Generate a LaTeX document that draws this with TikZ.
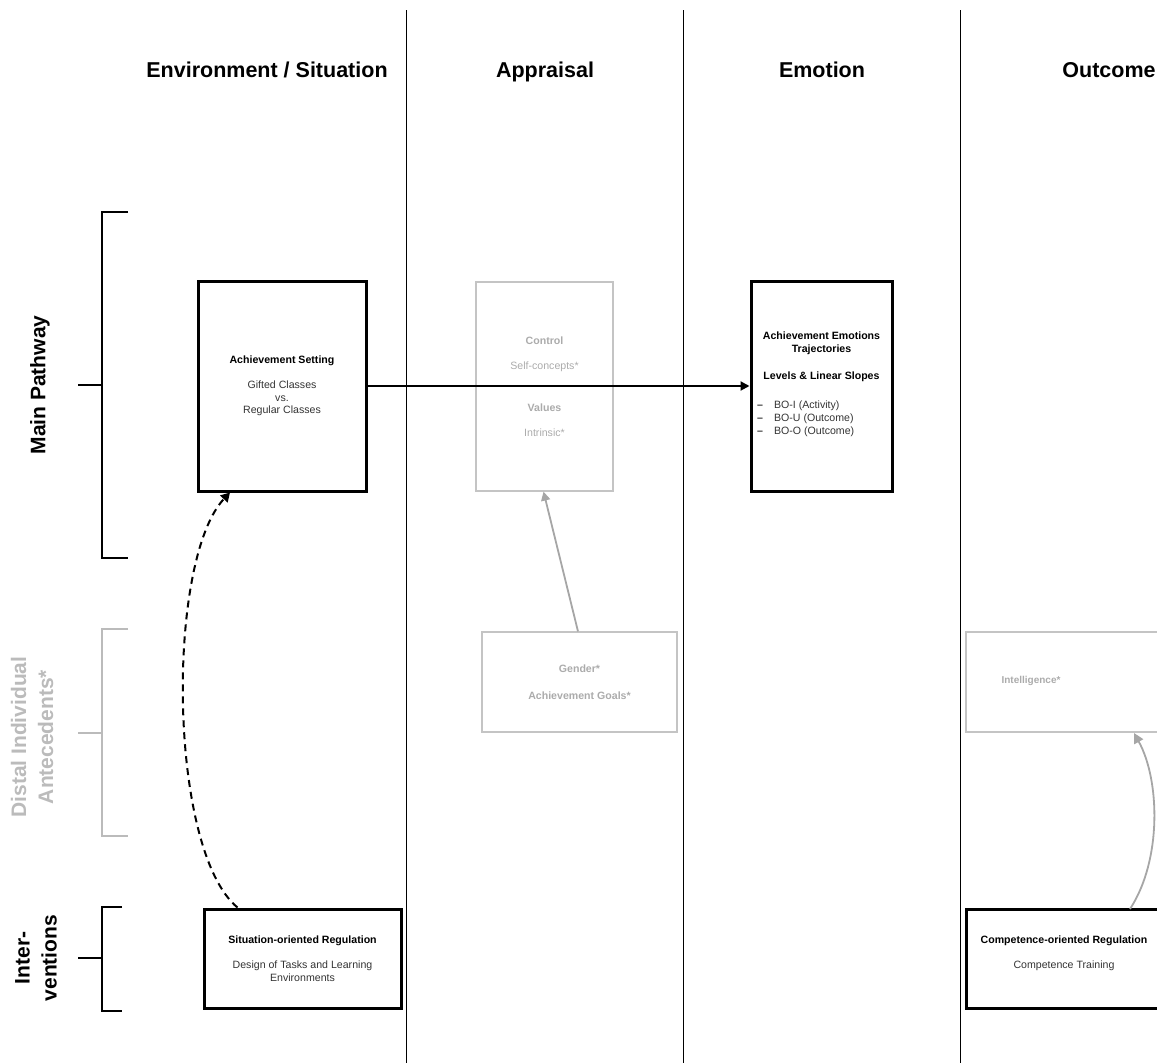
\documentclass[tikz,border=0pt]{standalone}
\usepackage{fontspec}
\setmainfont{Liberation Sans}
\usetikzlibrary{arrows.meta}
\definecolor{faint}{HTML}{C4C4C4}
\definecolor{fainttext}{HTML}{ABABAB}
\definecolor{faintarrow}{HTML}{A6A6A6}
\definecolor{faintlabel}{HTML}{BBBBBB}
\definecolor{bodytext}{HTML}{333333}
\tikzset{
  header/.style={font=\fontsize{21.5}{25}\selectfont\bfseries, anchor=base},
  rowlabel/.style={font=\fontsize{21}{27}\selectfont\bfseries, rotate=90, align=center, anchor=center},
  boxfont/.style={font=\fontsize{10.6}{12.5}\selectfont},
  strongbox/.style={draw=black, line width=3pt, inner sep=0pt, align=center, boxfont},
  faintbox/.style={draw=faint, line width=1.2pt, inner sep=0pt, align=center,
    text=fainttext, boxfont},
  column/.style={line width=0.9pt, black},
  bracket/.style={line width=2.2pt},
  flow/.style={line width=2pt, -{Triangle[length=9pt,width=9pt]}},
}
\begin{document}
\begin{tikzpicture}[x=1pt,y=-1pt]
\useasboundingbox (0,0) rectangle (1157,1063);
\clip (0,0) rectangle (1157,1063);

% column separators
\coordinate (c1t) at (406,10);  \coordinate (c1b) at (406,1063);
\coordinate (c2t) at (683,10);  \coordinate (c2b) at (683,1063);
\coordinate (c3t) at (960,10);  \coordinate (c3b) at (960,1063);
\draw[column] (c1t) -- (c1b);
\draw[column] (c2t) -- (c2b);
\draw[column] (c3t) -- (c3b);

% column headers
\node[header] (henv) at (267,77) {Environment / Situation};
\node[header] (happ) at (545,77) {Appraisal};
\node[header] (hemo) at (822,77) {Emotion};
\node[header] (hout) at (1109,77) {Outcome};

% row brackets
\draw[bracket] (128,212) -- (102,212) -- (102,558) -- (128,558);
\draw[bracket] (78,385) -- (102,385);
\node[rowlabel] (rmain) at (40,385) {Main Pathway};

\draw[bracket, faintlabel] (128,629) -- (102,629) -- (102,836) -- (128,836);
\draw[bracket, faintlabel] (78,733) -- (102,733);
\node[rowlabel, text=faintlabel] (rdistal) at (32,737) {Distal Individual\\Antecedents*};

\draw[bracket] (122,907) -- (102,907) -- (102,1011) -- (122,1011);
\draw[bracket] (78,958) -- (102,958);
\node[rowlabel] (rinter) at (36,958) {Inter-\\ventions};

% main pathway boxes
\node[strongbox, minimum width=168pt, minimum height=210pt] (setting) at (282,386)
  {\textbf{Achievement Setting}\\[13pt]\textcolor{bodytext}{Gifted Classes}\\\textcolor{bodytext}{vs.}\\\textcolor{bodytext}{Regular Classes}};
\node[faintbox, minimum width=137pt, minimum height=209pt] (appraisal) at (544.5,386.5)
  {\textbf{Control}\\[12pt]Self-concepts*\\[30pt]\textbf{Values}\\[12pt]Intrinsic*};
\node[strongbox, minimum width=141pt, minimum height=210pt] (emotion) at (821.5,386) {};
\node[boxfont, align=center, anchor=north] (emohead) at (821.5,328)
  {\textbf{Achievement Emotions}\\[1pt]\textbf{Trajectories}\\[14pt]\textbf{Levels \& Linear Slopes}};
\node[font=\fontsize{10.6}{13}\selectfont, text=bodytext, align=left, anchor=west, inner sep=0pt] (emolist) at (757,419)
  {\textbf{--}\hspace{11pt}BO-I (Activity)\\\textbf{--}\hspace{11pt}BO-U (Outcome)\\\textbf{--}\hspace{11pt}BO-O (Outcome)};

% distal antecedents
\node[faintbox, minimum width=195pt, minimum height=100pt] (gender) at (579.5,682)
  {\textbf{Gender*}\\[15pt]\textbf{Achievement Goals*}};
\node[faintbox, minimum width=220pt, minimum height=100pt] (intel) at (1076,682) {};
\node[text=fainttext, boxfont, font=\bfseries] (inteltext) at (1031,681) {Intelligence*};

% interventions
\node[strongbox, minimum width=197pt, minimum height=99pt] (situation) at (302.5,958.5)
  {\textbf{Situation-oriented Regulation}\\[13pt]\textcolor{bodytext}{Design of Tasks and Learning}\\\textcolor{bodytext}{Environments}};
\node[strongbox, minimum width=220pt, minimum height=99pt] (competence) at (1076,958.5) {};
\node[boxfont, align=center] (comptext) at (1064,953)
  {\textbf{Competence-oriented Regulation}\\[13pt]\textcolor{bodytext}{Competence Training}};

% connectors
\draw[flow] (setting.east) -- (emotion.west);
\draw[flow, faintarrow, line width=1.8pt] ([xshift=-1.5pt]gender.north) -- ([xshift=-1pt]appraisal.south);
\draw[line width=2pt, dashed, dash pattern=on 7pt off 5pt, -{Triangle[length=9pt,width=10pt]}]
  ([xshift=-65pt]situation.north) .. controls (168,850) and (166,560) .. ([xshift=-52pt]setting.south);
\draw[faintarrow, line width=1.8pt, -{Triangle[length=10pt,width=10pt]}]
  (1130,909) .. controls (1162,860) and (1160,780) .. (1134,733);
\end{tikzpicture}
\end{document}
